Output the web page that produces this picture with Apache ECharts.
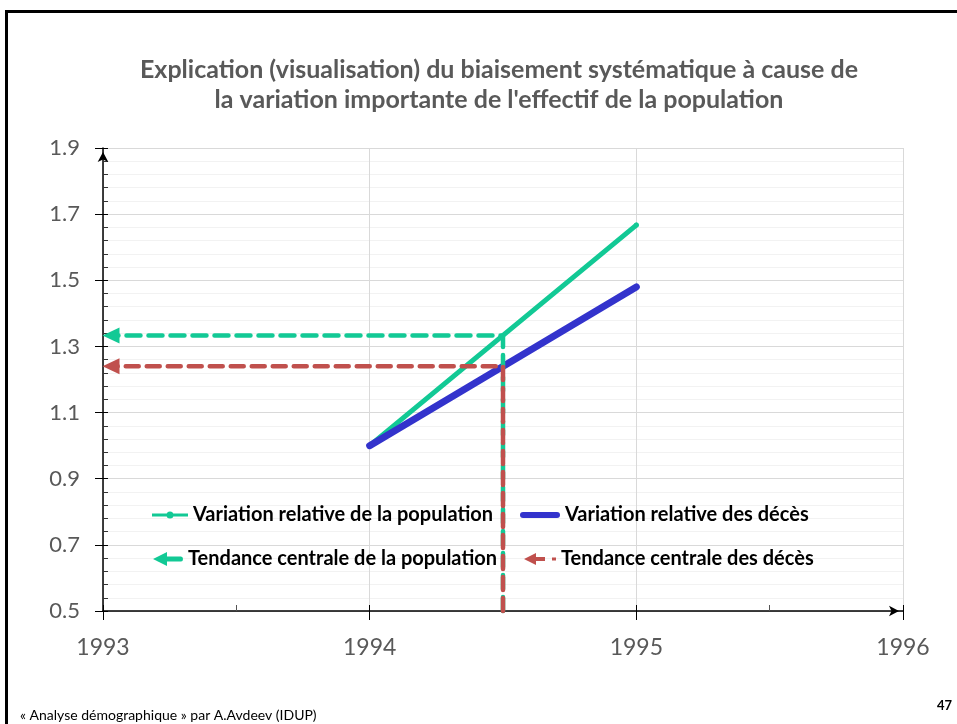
<!DOCTYPE html>
<html>
<head>
<meta charset="utf-8">
<script src="https://cdn.jsdelivr.net/npm/echarts@6/dist/echarts.min.js"></script>
<style>html,body{margin:0;padding:0;background:#fff}#c{width:957px;height:724px}</style>
</head>
<body>
<div id="c"></div>
<script>
// ---- data ----
const titleText = "Explication (visualisation) du biaisement systématique à cause de\nla variation importante de l'effectif de la population";
const years = [1994, 1995];
const popVariation = [1.0, 1.667];
const decesVariation = [1.0, 1.48];
const midYear = 1994.5;
const popTendance = 1.333;
const decesTendance = 1.24;
const tendanceStartX = 1993.03;
const xTicks = [1993, 1994, 1995, 1996];
const yTicks = [0.5, 0.7, 0.9, 1.1, 1.3, 1.5, 1.7, 1.9];
const seriesNames = [
  "Variation relative de la population",
  "Variation relative des décès",
  "Tendance centrale de la population",
  "Tendance centrale des décès"
];
const footerText = "« Analyse démographique » par A.Avdeev (IDUP)";
const pageNumber = "47";

const FONT = "Lato, 'Open Sans', sans-serif";
const green = '#12C995';
const blue = '#3333CC';
const red = '#C0504D';

function tendanceData(v) {
  return [
    [midYear, yTicks[0]],
    [midYear, v],
    { value: [tendanceStartX, v], symbol: 'triangle', symbolSize: [16, 17], symbolRotate: 90 }
  ];
}

const chart = echarts.init(document.getElementById('c'));
const legendText = { fontFamily: FONT, fontSize: 20, fontWeight: 'bold', color: '#000' };
chart.setOption({
  animation: false,
  backgroundColor: '#fff',
  title: {
    text: titleText,
    left: 494, top: 50, textAlign: 'center',
    textStyle: { fontFamily: FONT, fontSize: 25, fontWeight: 'bold', color: '#595959', lineHeight: 30 }
  },
  grid: { left: 103, right: 54, top: 148, bottom: 113 },
  xAxis: [{
    type: 'value', min: xTicks[0], max: xTicks[xTicks.length - 1], interval: 1,
    axisLine: { show: true, onZero: false, lineStyle: { color: '#000', width: 1.5 }, symbol: ['none', 'arrow'], symbolSize: [8, 10], symbolOffset: [0, -4] },
    axisTick: { show: true, length: 9, lineStyle: { color: '#000' } },
    axisLabel: { margin: 25, fontFamily: FONT, fontSize: 23, color: '#595959', formatter: v => String(Math.round(v)) },
    splitLine: { show: true, lineStyle: { color: '#d9d9d9', width: 1 } }
  }, {
    type: 'value', min: xTicks[0], max: xTicks[xTicks.length - 1], interval: 1, position: 'bottom',
    axisLine: { show: false, onZero: false },
    axisTick: { show: true, inside: true, length: 6, lineStyle: { color: '#000' } },
    minorTick: { show: true, splitNumber: 2, length: 6, lineStyle: { color: '#555' } },
    axisLabel: { show: false },
    splitLine: { show: false }
  }],
  yAxis: [{
    type: 'value', min: yTicks[0], max: yTicks[yTicks.length - 1], interval: 0.2,
    axisLine: { show: true, onZero: false, lineStyle: { color: '#000', width: 1.5 }, symbol: ['none', 'arrow'], symbolSize: [8, 10], symbolOffset: [0, -4] },
    axisTick: { show: true, length: 8, lineStyle: { color: '#000' } },
    minorTick: { show: false, splitNumber: 5 },
    axisLabel: { margin: 23, fontFamily: FONT, fontSize: 22, color: '#595959', formatter: v => v.toFixed(1) },
    splitLine: { show: true, lineStyle: { color: '#d9d9d9', width: 1 } },
    minorSplitLine: { show: true, lineStyle: { color: '#f2f2f2', width: 1 } }
  }, {
    type: 'value', min: yTicks[0], max: yTicks[yTicks.length - 1], interval: 0.2, position: 'left',
    axisLine: { show: false, onZero: false },
    axisTick: { show: true, inside: true, length: 5, lineStyle: { color: '#000' } },
    minorTick: { show: true, splitNumber: 5, length: 5, lineStyle: { color: '#333' } },
    axisLabel: { show: false },
    splitLine: { show: false }
  }],
  legend: [
    { data: [{ name: seriesNames[0], icon: 'path://M0,5.5h36v3h-36z M18,3.5a3.5,3.5 0 1 1 0,7a3.5,3.5 0 1 1 0,-7z' }],
      left: 147, top: 500, itemWidth: 36, itemHeight: 7, textStyle: legendText, selectedMode: false },
    { data: [{ name: seriesNames[1], icon: 'path://M3,4h34a3,3 0 0 1 0,6h-34a3,3 0 0 1 0,-6z' }],
      left: 515, top: 500, itemWidth: 40, itemHeight: 6, textStyle: legendText, selectedMode: false },
    { data: [{ name: seriesNames[2], icon: 'path://M0,7L14,0L14,4.5L28,4.5Q30,4.5 30,7Q30,9.5 28,9.5L14,9.5L14,14Z' }],
      left: 148, top: 544, itemWidth: 30, itemHeight: 14, textStyle: legendText, selectedMode: false },
    { data: [{ name: seriesNames[3], icon: 'path://M0,6L12,0L12,4L21,4L21,8L12,8L12,12Z M28,4.5h4v3h-4z' }],
      left: 519, top: 544, itemWidth: 32, itemHeight: 12, textStyle: legendText, selectedMode: false }
  ],
  series: [
    {
      name: seriesNames[0], type: 'line', xAxisIndex: 0, yAxisIndex: 0,
      data: years.map((y, i) => [y, popVariation[i]]),
      symbol: 'circle', symbolSize: 5, showSymbol: true,
      itemStyle: { color: green },
      lineStyle: { color: green, width: 5, cap: 'round' }, z: 3
    },
    {
      name: seriesNames[1], type: 'line', xAxisIndex: 0, yAxisIndex: 0,
      data: years.map((y, i) => [y, decesVariation[i]]),
      symbol: 'none',
      itemStyle: { color: blue },
      lineStyle: { color: blue, width: 7, cap: 'round' }, z: 4
    },
    {
      name: seriesNames[2], type: 'line', xAxisIndex: 0, yAxisIndex: 0,
      data: tendanceData(popTendance),
      symbol: 'none', showSymbol: true, clip: false,
      itemStyle: { color: green },
      lineStyle: { color: green, width: 4.5, type: [14, 8], cap: 'round' }, z: 5
    },
    {
      name: seriesNames[3], type: 'line', xAxisIndex: 0, yAxisIndex: 0,
      data: tendanceData(decesTendance),
      symbol: 'none', showSymbol: true, clip: false,
      itemStyle: { color: red },
      lineStyle: { color: red, width: 4.5, type: [13, 8], cap: 'round' }, z: 6
    }
  ],
  graphic: [
    { type: 'line', shape: { x1: 6.5, y1: 11.5, x2: 6.5, y2: 724 }, style: { stroke: '#000', lineWidth: 3 }, z: 100 },
    { type: 'line', shape: { x1: 5, y1: 11.5, x2: 957, y2: 11.5 }, style: { stroke: '#000', lineWidth: 3 }, z: 100 },
    { type: 'text', left: 20, top: 708, style: { text: footerText, fontFamily: FONT, fontSize: 14, fill: '#000' } },
    { type: 'text', left: 937, top: 699, style: { text: pageNumber, fontFamily: FONT, fontSize: 13, fontWeight: 'bold', fill: '#000' } }
  ]
});
</script>
</body>
</html>
